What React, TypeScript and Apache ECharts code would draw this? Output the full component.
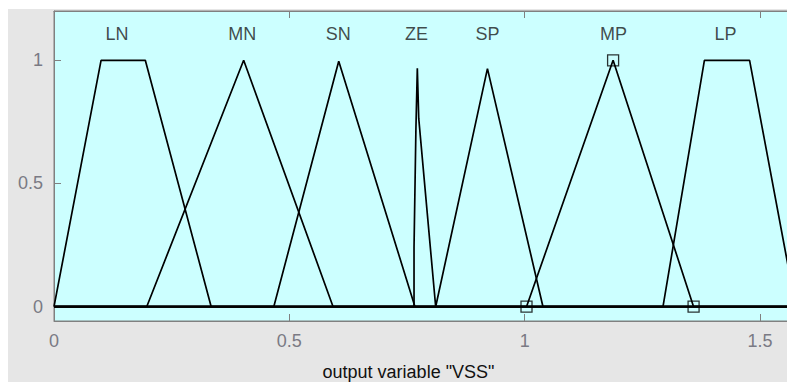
import React, { useEffect, useRef } from "react";
import * as echarts from "echarts";

// Membership function vertices ([x, degree])
const mfNames = ["LN", "MN", "SN", "ZE", "SP", "MP", "LP"];
const LN = [[0, 0], [0.1, 1], [0.194, 1], [0.334, 0], [1.6, 0]];
const MN = [[0, 0], [0.197, 0], [0.403, 1], [0.593, 0], [1.6, 0]];
const SN = [[0, 0], [0.467, 0], [0.605, 0.996], [0.767, 0], [1.6, 0]];
const ZE = [[0, 0], [0.765, 0], [0.765, 0.24], [0.769, 0.72], [0.772, 0.968], [0.775, 0.764], [0.811, 0], [1.6, 0]];
const SP = [[0, 0], [0.811, 0], [0.921, 0.966], [1.039, 0], [1.6, 0]];
const MP = [[0, 0], [1.004, 0], [1.188, 1], [1.359, 0], [1.6, 0]];
const LP = [[0, 0], [1.294, 0], [1.382, 1], [1.478, 1], [1.576, 0], [1.6, 0]];
const mfData = [LN, MN, SN, ZE, SP, MP, LP];

// label anchor x for each MF name
const labelX = [0.134, 0.4, 0.604, 0.77, 0.921, 1.189, 1.427];
const labelY = 1.105;

// selected MF (MP) parameter markers
const selectedMarkers = [[1.004, 0], [1.188, 1], [1.359, 0]];

const xTicks = [0, 0.5, 1, 1.5];
const yTicks = [0, 0.5, 1];

export default function App() {
  const ref = useRef<HTMLDivElement>(null);
  useEffect(() => {
    if (!ref.current) return;
    const chart = echarts.init(ref.current, null, { renderer: "svg" });
    const font = "Liberation Sans, Arial, sans-serif";
    const grey = "#808080";
    chart.setOption({
      animation: false,
      textStyle: { fontFamily: font },
      grid: {
        left: 46,
        top: 2,
        bottom: 61,
        right: 31,
        containLabel: false,
        outerBoundsMode: "none",
        show: true,
        backgroundColor: "#ccffff",
        borderColor: grey,
        borderWidth: 1,
      },
      xAxis: [
        {
          type: "value",
          min: 0,
          max: 1.6,
          position: "bottom",
          axisLine: { show: true, onZero: false, lineStyle: { color: grey } },
          axisTick: { show: true, inside: true, length: 7, customValues: xTicks, lineStyle: { color: grey } },
          axisLabel: { customValues: xTicks, color: "#7a7a84", fontSize: 18, margin: 11, fontFamily: font },
          splitLine: { show: false },
          name: 'output variable "VSS"',
          nameLocation: "middle",
          nameGap: 42,
          nameTextStyle: { color: "#111", fontSize: 18, fontFamily: font, padding: [0, 44, 0, 0] },
        },
        {
          type: "value",
          min: 0,
          max: 1.6,
          position: "top",
          axisLine: { show: true, onZero: false, lineStyle: { color: grey } },
          axisTick: { show: true, inside: true, length: 7, customValues: xTicks, lineStyle: { color: grey } },
          axisLabel: { show: false },
          splitLine: { show: false },
        },
      ],
      yAxis: {
        type: "value",
        min: -0.058,
        max: 1.2,
        axisLine: { show: true, onZero: false, lineStyle: { color: grey } },
        axisTick: { show: true, inside: true, length: 7, customValues: yTicks, lineStyle: { color: grey } },
        axisLabel: { customValues: yTicks, color: "#7a7a84", fontSize: 18, margin: 11, fontFamily: font },
        splitLine: { show: false },
      },
      series: [
        ...mfData.map((d, i) => ({
          name: mfNames[i],
          type: "line",
          data: d,
          symbol: "none",
          lineStyle: { color: "#000", width: 1.7 },
          z: 3,
        })),
        {
          type: "scatter",
          data: selectedMarkers,
          symbol: "rect",
          symbolSize: 11,
          itemStyle: { color: "rgba(0,0,0,0)", borderColor: "#000", borderWidth: 1.3 },
          z: 4,
        },
        {
          type: "scatter",
          data: labelX.map((x) => [x, labelY]),
          symbolSize: 0,
          label: {
            show: true,
            position: "inside",
            formatter: (p: any) => mfNames[p.dataIndex],
            color: "#1a1a1a",
            fontSize: 18,
            fontFamily: font,
          },
          z: 5,
        },
      ],
    });
    return () => chart.dispose();
  }, []);
  return (
    <div
      style={{
        position: "absolute",
        left: 8,
        top: 9,
        width: 779,
        height: 373,
        overflow: "hidden",
        background: "#e6e6e6",
      }}
    >
      <div ref={ref} style={{ width: 830, height: 373 }} />
    </div>
  );
}
